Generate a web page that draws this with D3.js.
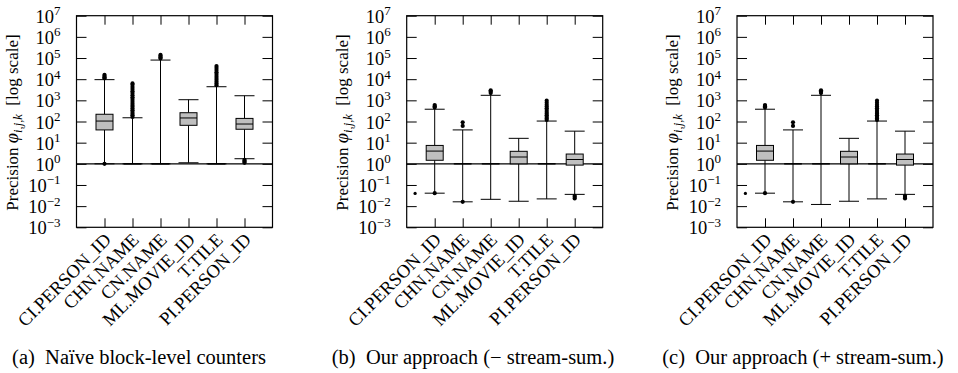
<!DOCTYPE html>
<html><head><meta charset="utf-8">
<script src="https://cdn.jsdelivr.net/npm/d3@7"></script>
<style>
html,body{margin:0;padding:0;background:#fff;}
svg, svg text{font-family:"Liberation Serif","Times New Roman",serif;}
svg{display:block;}
</style></head>
<body><svg id="chart" width="958" height="373" font-family="Liberation Serif"></svg>
<script>
// ---------- data ----------
const categories = ["CI.PERSON_ID","CHN.NAME","CN.NAME","ML.MOVIE_ID","T.TILE","PI.PERSON_ID"];
const yTickExponents = [-3,-2,-1,0,1,2,3,4,5,6,7];
const captionTags = ["(a)","(b)","(c)"];
const captionTexts = ["Naïve block-level counters","Our approach (\u2212 stream-sum.)","Our approach (+ stream-sum.)"];

// (a) naive block-level counters
const naiveQ1      = [40, 1, 1, 66, 1, 43];
const naiveMedian  = [105, 1, 1, 147, 1, 76];
const naiveQ3      = [220, 1, 1, 260, 1, 140];
const naiveLow     = [1, 1, 1, 1.12, 1, 1.74];
const naiveHigh    = [9500, 150, 80000, 1070, 4400, 1650];
const naiveOutliers = [
  [1.0, 11000, 12500, 14000, 16000],
  [165, 195, 230, 280, 340, 410, 500, 610, 750, 920, 1150, 1400, 1750, 2200, 2700, 3400, 4300, 5400, 6300],
  [95000, 110000, 125000, 140000],
  [],
  [5200, 6300, 7600, 9300, 11500, 14000, 17500, 21500, 27000, 34000, 42000],
  [1.55, 1.4, 1.25, 1.12]
];

// (b) our approach, without stream summary
const minusQ1      = [1.47, 1, 1, 1.0, 1, 0.87];
const minusMedian  = [4.0, 1, 1, 2.1, 1, 1.6];
const minusQ3      = [7.4, 1, 1, 3.9, 1, 2.9];
const minusLow     = [0.041, 0.016, 0.021, 0.017, 0.022, 0.036];
const minusHigh    = [380, 40, 1730, 16, 105, 35];
const minusOutliers = [
  [0.041, 460, 530, 600],
  [0.016, 62, 92],
  [2200, 2600, 3000],
  [],
  [118, 140, 165, 195, 235, 285, 345, 420, 510, 620, 760, 960],
  [0.031, 0.027, 0.023]
];

// (c) our approach, with stream summary
const plusQ1      = [1.47, 1, 1, 1.0, 1, 0.87];
const plusMedian  = [4.0, 1, 1, 2.1, 1, 1.6];
const plusQ3      = [7.4, 1, 1, 3.9, 1, 2.9];
const plusLow     = [0.041, 0.016, 0.012, 0.017, 0.022, 0.036];
const plusHigh    = [380, 40, 1730, 16, 105, 35];
const plusOutliers = [
  [0.041, 460, 530, 600],
  [0.016, 62, 92],
  [2200, 2600, 3000],
  [],
  [118, 140, 165, 195, 235, 285, 345, 420, 510, 620, 760, 960],
  [0.031, 0.027, 0.023]
];

// isolated marks left of the first category (panels b and c)
const strayPosition = [0.3];
const strayValue = [0.04];

const panels = [
  {q1: naiveQ1, med: naiveMedian, q3: naiveQ3, lo: naiveLow, hi: naiveHigh, out: naiveOutliers, stray: false},
  {q1: minusQ1, med: minusMedian, q3: minusQ3, lo: minusLow, hi: minusHigh, out: minusOutliers, stray: true},
  {q1: plusQ1,  med: plusMedian,  q3: plusQ3,  lo: plusLow,  hi: plusHigh,  out: plusOutliers,  stray: true}
];

// ---------- layout ----------
const svg = d3.select("#chart");
const frameLeft = [76.5, 406.7, 737];
const frameW = 196;
const plotTop = 15.7, plotBottom = 227.3;
const captionX = [139, 473, 803];
const boxW = 17, capW = 20;
const FONT = "Liberation Serif";

panels.forEach((p, pi) => {
  const x0 = frameLeft[pi], x1 = x0 + frameW;
  const x = d3.scaleLinear().domain([0, categories.length + 1]).range([x0, x1]);
  const y = d3.scaleLog().domain([1e-3, 1e7]).range([plotBottom, plotTop]);
  const g = svg.append("g");
  const decades = yTickExponents.map(e => Math.pow(10, e));
  const catPos = categories.map((c, i) => i + 1);

  const styleAxis = sel => { sel.select(".domain").remove(); sel.selectAll(".tick line").attr("stroke","#000").attr("stroke-width",1); sel.selectAll("text").remove(); };
  g.append("g").attr("transform",`translate(${x0},0)`).call(d3.axisLeft(y).tickValues(decades).tickSize(-10)).call(styleAxis);
  g.append("g").attr("transform",`translate(${x1},0)`).call(d3.axisRight(y).tickValues(decades).tickSize(-10)).call(styleAxis);
  g.append("g").attr("transform",`translate(0,${plotBottom})`).call(d3.axisBottom(x).tickValues(catPos).tickSize(-9)).call(styleAxis);
  g.append("g").attr("transform",`translate(0,${plotTop})`).call(d3.axisTop(x).tickValues(catPos).tickSize(-9)).call(styleAxis);

  // y tick labels with superscripts
  yTickExponents.forEach(e => {
    const t = g.append("text").attr("x", x0 - 16).attr("y", y(Math.pow(10, e)) + 7)
      .attr("text-anchor","end").attr("font-family",FONT).attr("font-size", 18.5).attr("fill","#000");
    t.append("tspan").text("10");
    t.append("tspan").attr("dy", -7.5).attr("font-size", 13).text(e < 0 ? "\u2212" + (-e) : String(e));
  });

  // reference line at 10^0
  g.append("line").attr("x1", x0).attr("x2", x1).attr("y1", y(1)).attr("y2", y(1))
    .attr("stroke","#000").attr("stroke-width",1.3);

  categories.forEach((c, i) => {
    const cx = x(i + 1);
    const b = g.append("g");
    b.append("line").attr("x1",cx).attr("x2",cx).attr("y1",y(p.lo[i])).attr("y2",y(p.q1[i])).attr("stroke","#000").attr("stroke-width",1);
    b.append("line").attr("x1",cx).attr("x2",cx).attr("y1",y(p.q3[i])).attr("y2",y(p.hi[i])).attr("stroke","#000").attr("stroke-width",1);
    b.append("line").attr("x1",cx-capW/2).attr("x2",cx+capW/2).attr("y1",y(p.lo[i])).attr("y2",y(p.lo[i])).attr("stroke","#000").attr("stroke-width",1);
    b.append("line").attr("x1",cx-capW/2).attr("x2",cx+capW/2).attr("y1",y(p.hi[i])).attr("y2",y(p.hi[i])).attr("stroke","#000").attr("stroke-width",1);
    b.append("rect").attr("x",cx-boxW/2).attr("width",boxW)
      .attr("y",y(p.q3[i])).attr("height",Math.max(0.01, y(p.q1[i]) - y(p.q3[i])))
      .attr("fill","#bfbfbf").attr("stroke","#000").attr("stroke-width",1);
    b.append("line").attr("x1",cx-boxW/2).attr("x2",cx+boxW/2).attr("y1",y(p.med[i])).attr("y2",y(p.med[i])).attr("stroke","#000").attr("stroke-width",1);
    b.selectAll("circle").data(p.out[i]).enter().append("circle")
      .attr("cx",cx).attr("cy",d => y(d)).attr("r",2.1).attr("fill","#000");
  });

  if (p.stray) {
    g.selectAll("circle.stray").data(strayValue).enter().append("circle").attr("class","stray")
      .attr("cx",(d,k) => x(strayPosition[k])).attr("cy",d => y(d)).attr("r",1.6).attr("fill","#000");
  }

  g.append("rect").attr("x",x0).attr("y",plotTop).attr("width",frameW).attr("height",plotBottom-plotTop)
    .attr("fill","none").attr("stroke","#000").attr("stroke-width",1.2);

  categories.forEach((c, i) => {
    g.append("text").attr("transform",`translate(${x(i+1)+3},${plotBottom+9}) rotate(-45)`)
      .attr("text-anchor","end").attr("dy","0.35em").attr("font-family",FONT).attr("font-size",18.5).attr("fill","#000").text(c);
  });

  const yl = g.append("text").attr("transform",`translate(${x0-59},${(plotTop+plotBottom)/2 + 1}) rotate(-90)`)
    .attr("text-anchor","middle").attr("font-family",FONT).attr("font-size",17).attr("fill","#000");
  yl.append("tspan").text("Precision ");
  yl.append("tspan").attr("font-style","italic").attr("font-size",18.5).text("\u03C6");
  yl.append("tspan").attr("font-style","italic").attr("font-size",12.5).attr("dy",4).text("i,j,k");
  yl.append("tspan").attr("dy",-4).text("\u2002[log scale]");

  const cap = svg.append("text").attr("x",captionX[pi]).attr("y",364).attr("text-anchor","middle")
    .attr("font-family",FONT).attr("font-size",20.5).attr("fill","#000");
  cap.append("tspan").text(captionTags[pi]);
  cap.append("tspan").text("\u2002" + captionTexts[pi]);
});
</script></body></html>
